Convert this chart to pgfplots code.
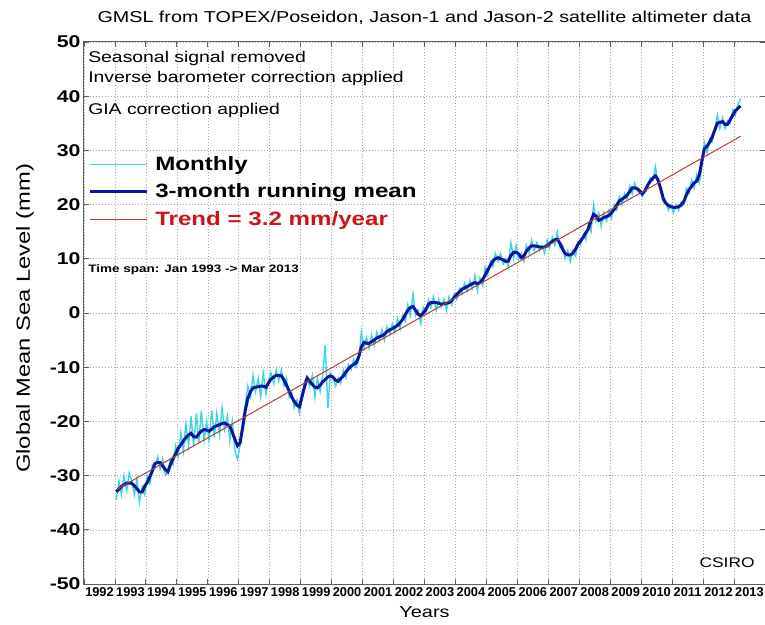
\documentclass[border=0pt]{standalone}
\usepackage{fontspec}
\setmainfont{Liberation Sans}[FakeStretch=1.25]
\newfontfamily\narrowfont{Liberation Sans}
\usepackage{pgfplots}
\usepackage{pgfplotstable}
\pgfplotsset{compat=1.18}

\definecolor{monthcyan}{RGB}{60,215,220}
\definecolor{meanblue}{RGB}{10,20,165}
\definecolor{trendline}{RGB}{185,60,50}
\definecolor{trendtxt}{RGB}{205,20,20}
\definecolor{gridgray}{RGB}{165,165,165}
\definecolor{axisgray}{RGB}{95,95,95}

% t = decimal year, mon = monthly GMSL (mm), avg = 3-month running mean (mm)
\pgfplotstableread{
t mon avg
1993.04 -34.5 -33.0
1993.13 -31.0 -32.5
1993.21 -33.5 -32.0
1993.29 -30.0 -31.7
1993.38 -32.8 -31.4
1993.46 -29.5 -31.4
1993.54 -31.0 -31.4
1993.63 -33.5 -31.9
1993.71 -30.5 -32.4
1993.79 -35.0 -33.0
1993.88 -32.0 -33.0
1993.96 -33.5 -32.0
1994.04 -30.0 -31.3
1994.13 -31.5 -30.2
1994.21 -28.0 -29.1
1994.29 -28.5 -27.8
1994.38 -26.5 -27.6
1994.46 -28.8 -27.6
1994.54 -27.0 -28.2
1994.63 -30.0 -28.9
1994.71 -29.5 -29.3
1994.79 -27.0 -28.0
1994.88 -28.0 -26.8
1994.96 -24.5 -26.0
1995.04 -26.5 -25.0
1995.13 -22.0 -24.3
1995.21 -25.5 -23.6
1995.29 -20.5 -23.0
1995.38 -24.5 -22.5
1995.46 -19.0 -22.2
1995.54 -24.5 -22.8
1995.63 -18.5 -22.9
1995.71 -24.0 -22.3
1995.79 -18.0 -21.8
1995.88 -23.5 -21.5
1995.96 -20.0 -21.6
1996.04 -23.5 -21.8
1996.13 -18.0 -21.4
1996.21 -23.0 -21.0
1996.29 -18.5 -20.8
1996.38 -22.5 -20.6
1996.46 -17.5 -20.4
1996.54 -21.5 -20.3
1996.63 -19.0 -20.6
1996.71 -23.5 -20.9
1996.79 -20.0 -22.0
1996.88 -25.5 -23.4
1996.96 -27.0 -24.5
1997.04 -24.5 -24.0
1997.13 -19.5 -21.0
1997.21 -17.0 -18.0
1997.29 -13.5 -15.8
1997.38 -15.5 -14.5
1997.46 -11.5 -13.8
1997.54 -14.5 -13.7
1997.63 -12.0 -13.6
1997.71 -15.5 -13.5
1997.79 -11.0 -13.5
1997.88 -15.0 -13.7
1997.96 -12.5 -12.9
1998.04 -11.0 -12.2
1998.13 -13.0 -11.8
1998.21 -10.5 -11.5
1998.29 -12.5 -11.5
1998.38 -10.5 -11.6
1998.46 -13.5 -12.4
1998.54 -12.0 -13.3
1998.63 -15.5 -14.4
1998.71 -14.5 -15.5
1998.79 -17.5 -16.3
1998.88 -16.0 -17.0
1998.96 -18.5 -17.3
1999.04 -16.0 -15.5
1999.13 -12.5 -13.5
1999.21 -12.0 -12.0
1999.29 -13.5 -12.6
1999.38 -11.5 -13.2
1999.46 -15.5 -13.7
1999.54 -12.0 -13.8
1999.63 -14.5 -13.3
1999.71 -11.5 -12.7
1999.79 -6.0 -12.3
1999.88 -17.5 -11.8
1999.96 -11.0 -11.6
2000.04 -12.0 -11.8
2000.13 -13.5 -12.4
2000.21 -12.0 -12.6
2000.29 -13.0 -12.1
2000.38 -10.5 -11.6
2000.46 -12.0 -10.9
2000.54 -9.5 -10.3
2000.63 -10.5 -9.8
2000.71 -8.5 -9.5
2000.79 -10.0 -9.2
2000.88 -8.5 -8.0
2000.96 -3.5 -6.3
2001.04 -6.5 -5.4
2001.13 -4.5 -5.6
2001.21 -6.5 -5.6
2001.29 -4.0 -5.3
2001.38 -6.0 -5.0
2001.46 -3.5 -4.6
2001.54 -5.0 -4.4
2001.63 -3.0 -4.2
2001.71 -5.0 -3.9
2001.79 -2.5 -3.4
2001.88 -4.0 -3.1
2001.96 -2.0 -2.9
2002.04 -3.5 -2.6
2002.13 -1.0 -2.3
2002.21 -3.0 -1.8
2002.29 -0.5 -1.2
2002.38 -1.5 -0.3
2002.46 1.5 0.5
2002.54 -0.5 1.0
2002.63 3.5 1.2
2002.71 -0.5 0.5
2002.79 0.5 -0.2
2002.88 -2.0 -0.5
2002.96 1.0 0.0
2003.04 0.0 0.6
2003.13 2.5 1.6
2003.21 1.0 1.9
2003.29 3.0 1.9
2003.38 0.5 1.9
2003.46 2.5 1.8
2003.54 1.0 1.6
2003.63 2.5 1.7
2003.71 0.5 1.8
2003.79 3.0 1.9
2003.88 1.5 2.3
2003.96 3.5 2.9
2004.04 2.5 3.4
2004.13 4.5 3.9
2004.21 3.5 4.4
2004.29 5.5 4.6
2004.38 4.0 4.9
2004.46 6.0 5.1
2004.54 4.5 5.4
2004.63 7.0 5.6
2004.71 4.0 5.4
2004.79 6.5 5.6
2004.88 5.0 6.2
2004.96 8.5 7.0
2005.04 7.0 7.9
2005.13 9.5 8.8
2005.21 8.5 9.6
2005.29 11.0 10.0
2005.38 9.5 10.2
2005.46 11.0 10.0
2005.54 9.0 9.8
2005.63 10.0 9.5
2005.71 8.5 9.6
2005.79 13.0 10.6
2005.88 10.0 11.2
2005.96 12.5 11.2
2006.04 10.0 10.9
2006.13 11.0 10.2
2006.21 9.5 10.5
2006.29 12.5 11.4
2006.38 11.0 12.0
2006.46 13.5 12.4
2006.54 11.5 12.4
2006.63 13.0 12.3
2006.71 11.5 12.2
2006.79 12.5 12.1
2006.88 11.0 12.2
2006.96 13.5 12.4
2007.04 12.0 12.8
2007.13 14.0 13.2
2007.21 12.5 13.5
2007.29 15.0 13.6
2007.38 12.0 12.8
2007.46 12.5 11.8
2007.54 10.0 11.0
2007.63 11.5 10.7
2007.71 9.5 10.7
2007.79 11.5 11.0
2007.88 10.5 11.8
2007.96 13.0 12.7
2008.04 12.5 13.3
2008.13 14.5 14.0
2008.21 13.5 14.8
2008.29 16.5 15.5
2008.38 15.0 17.0
2008.46 20.0 18.2
2008.54 17.0 17.9
2008.63 18.5 17.1
2008.71 16.0 17.3
2008.79 18.5 17.6
2008.88 17.0 17.8
2008.96 19.0 18.0
2009.04 17.5 18.5
2009.13 20.0 19.1
2009.21 19.0 19.9
2009.29 21.5 20.6
2009.38 20.0 21.0
2009.46 22.0 21.3
2009.54 21.0 21.7
2009.63 23.5 22.4
2009.71 22.0 23.1
2009.79 24.0 23.1
2009.88 22.5 22.9
2009.96 22.0 22.5
2010.04 21.5 22.0
2010.13 23.0 22.6
2010.21 23.0 23.6
2010.29 25.0 24.3
2010.38 24.5 24.9
2010.46 27.0 25.3
2010.54 24.0 24.6
2010.63 23.0 22.9
2010.71 20.5 21.2
2010.79 20.5 20.3
2010.88 19.0 19.8
2010.96 20.0 19.6
2011.04 18.5 19.5
2011.13 20.0 19.5
2011.21 19.0 19.6
2011.29 20.5 19.9
2011.38 20.0 20.6
2011.46 23.0 21.8
2011.54 22.0 22.7
2011.63 24.5 23.4
2011.71 23.0 24.0
2011.79 25.5 24.3
2011.88 24.0 25.5
2011.96 27.5 28.0
2012.04 31.5 30.3
2012.13 29.5 30.8
2012.21 32.0 31.5
2012.29 31.5 32.4
2012.38 34.0 33.8
2012.46 36.5 35.0
2012.54 34.0 35.2
2012.63 36.0 35.3
2012.71 34.0 34.8
2012.79 35.5 34.8
2012.88 35.0 35.7
2012.96 37.5 36.5
2013.04 36.5 37.3
2013.13 38.5 37.8
2013.21 39.6 38.2
}\gmsl

\begin{document}
\begin{tikzpicture}
\begin{axis}[
  at={(0,0)}, anchor=south west,
  scale only axis, width=681pt, height=542pt,
  xmin=1992, xmax=2014, ymin=-50, ymax=50,
  xtick={1992,...,2013},
  xticklabels={1992,1993,1994,1995,1996,1997,1998,1999,2000,2001,2002,2003,2004,2005,2006,2007,2008,2009,2010,2011,2012,2013},
  xticklabel style={font=\narrowfont\bfseries\fontsize{12.8}{14}\selectfont, xshift=15.5pt},
  ytick={-50,-40,...,50},
  yticklabels={-50,-40,-30,-20,-10,0,10,20,30,40,50},
  yticklabel style={font=\bfseries\fontsize{17}{19}\selectfont},
  grid=major,
  major grid style={gridgray, dash pattern=on 1pt off 2pt, line width=0.6pt},
  tick align=inside, major tick length=5pt,
  tick style={axisgray, line width=0.8pt},
  axis line style={axisgray, line width=1pt},
  title={GMSL from TOPEX/Poseidon, Jason-1 and Jason-2 satellite altimeter data},
  title style={font=\fontsize{15.8}{18}\selectfont, at={(0.5,1)}, anchor=base, yshift=13pt},
  xlabel={Years},
  xlabel style={at={(axis description cs:0.5,0)}, anchor=center, yshift=-28pt, font=\fontsize{15.9}{18}\selectfont},
  ylabel={Global Mean Sea Level (mm)},
  ylabel style={at={(axis description cs:-0.0866,0.49)}, anchor=center, font=\fontsize{19}{22}\selectfont},
  legend image code/.code={\draw[#1] (0pt,0pt) -- (57pt,0pt);},
  legend cell align=left,
  legend style={at={(0.006,0.791)}, anchor=north west, draw=none, fill=none,
    inner sep=0pt, row sep=10pt,
    font=\bfseries\fontsize{19.3}{22}\selectfont,
    nodes={inner xsep=0pt, inner ysep=1pt},
    /tikz/every odd column/.append style={column sep=7pt}},
]
\addlegendimage{monthcyan, line width=1.4pt}
\addlegendentry{Monthly}
\addlegendimage{meanblue, line width=3pt}
\addlegendentry{3-month running mean}
\addlegendimage{trendline, line width=1pt}
\addlegendentry{\textcolor{trendtxt}{Trend = 3.2 mm/year}}

\addplot[monthcyan, line width=1.4pt, forget plot] table[x=t, y=mon] {\gmsl};
\addplot[meanblue, line width=3pt, forget plot] table[x=t, y=avg] {\gmsl};
\addplot[trendline, line width=1pt, forget plot] coordinates {(1993.04,-32.6) (2013.21,32.6)};

\node[anchor=west, inner xsep=0pt, font=\fontsize{15.5}{18}\selectfont] at (rel axis cs:0.006,0.970) {Seasonal signal removed};
\node[anchor=west, inner xsep=0pt, font=\fontsize{15.5}{18}\selectfont] at (rel axis cs:0.006,0.932) {Inverse barometer correction applied};
\node[anchor=west, inner xsep=0pt, font=\fontsize{15.5}{18}\selectfont] at (rel axis cs:0.006,0.873) {GIA correction applied};
\node[anchor=west, inner xsep=0pt, font=\bfseries\fontsize{10.8}{13}\selectfont] at (rel axis cs:0.006,0.579) {Time span: Jan 1993 -> Mar 2013};
\node[anchor=east, inner xsep=0pt, font=\fontsize{13.9}{16}\selectfont] at (rel axis cs:0.985,0.039) {CSIRO};
\end{axis}
\pgfresetboundingbox
\path[use as bounding box] (-84pt,-40pt) rectangle (681pt,584pt);
\end{tikzpicture}
\end{document}
